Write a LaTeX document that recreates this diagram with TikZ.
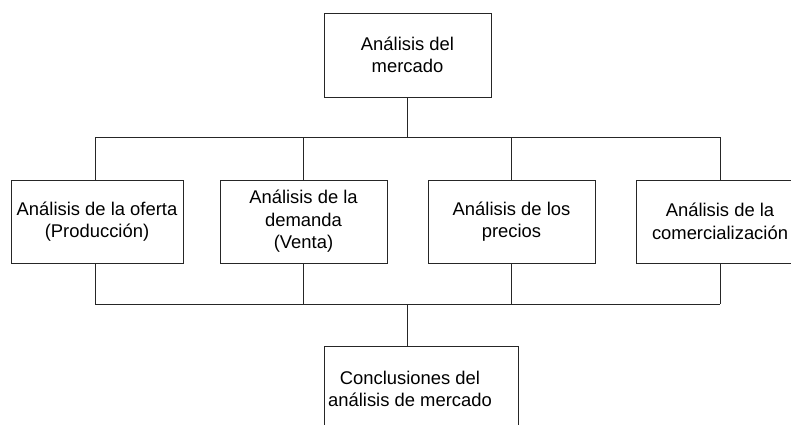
\documentclass[tikz,border=0pt]{standalone}
\usepackage{fontspec}
\setmainfont{Liberation Sans}
\begin{document}
\begin{tikzpicture}[x=1pt,y=-1pt,
  box/.style={draw=black!85, line width=1pt, fill=white, inner sep=0pt, align=center,
    font=\fontsize{18.4}{22.5}\selectfont},
  conn/.style={draw=black!85, line width=1pt}]
\useasboundingbox (0,0) rectangle (791,424);
% top box
\node[box, minimum width=167, minimum height=84] (top) at (407.5,55) {Análisis del\\mercado};
% middle row
\node[box, minimum width=172, minimum height=83] (b1) at (97,221.5) {Análisis de la oferta\\(Producción)};
\node[box, minimum width=167, minimum height=83] (b2) at (303.5,221.5) {Análisis de la\\demanda\\(Venta)};
\node[box, minimum width=167, minimum height=83] (b3) at (511.5,221.5) {Análisis de los\\precios};
\node[box, minimum width=168, minimum height=83] (b4) at (720,221.5) {Análisis de la\\comercialización};
% bottom box
\node[box, minimum width=194, minimum height=84] (b5) at (421,388) {};
\node[box, draw=none, fill=none] (b5t) at (410,389) {Conclusiones del\\análisis de mercado};
% buses
\coordinate (busT) at (407,137);
\coordinate (busTL) at (95,137);
\coordinate (busTR) at (720,137);
\coordinate (busB) at (407,304);
\coordinate (busBL) at (95,304);
\coordinate (busBR) at (720,304);
\draw[conn] (top.south -| busT) -- (busT);
\draw[conn] (busTL) -- (busTR);
\draw[conn] (busTL) -- (b1.north -| busTL);
\draw[conn] (b2.north |- busT) -- (b2.north);
\draw[conn] (b3.north |- busT) -- (b3.north);
\draw[conn] (busTR) -- (b4.north);
\draw[conn] (busBL) -- (busBR);
\draw[conn] (b1.south -| busBL) -- (busBL);
\draw[conn] (b2.south) -- (b2.south |- busB);
\draw[conn] (b3.south) -- (b3.south |- busB);
\draw[conn] (b4.south) -- (busBR);
\draw[conn] (busB) -- (b5.north -| busB);
\end{tikzpicture}
\end{document}
